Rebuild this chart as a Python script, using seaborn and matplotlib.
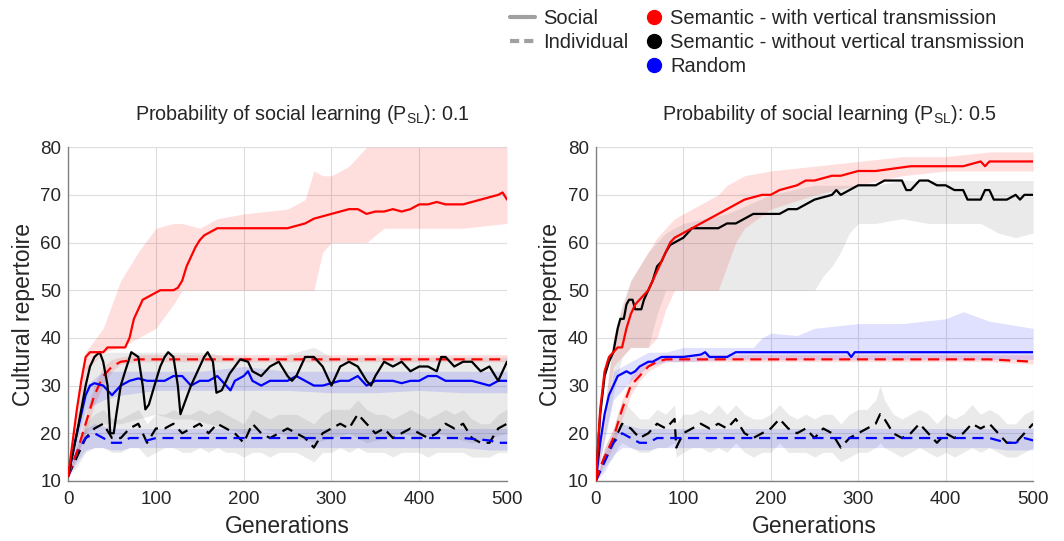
import numpy as np
import pandas as pd
import matplotlib
matplotlib.use("Agg")
import matplotlib.pyplot as plt
from matplotlib.lines import Line2D
import seaborn as sns

sns.set_style("white")
plt.rcParams['font.family'] = ['Liberation Sans', 'DejaVu Sans']
plt.rcParams['mathtext.fontset'] = 'custom'
plt.rcParams['mathtext.rm'] = 'Liberation Sans'

# ---------------- Panel A: P_SL = 0.1 ----------------
a_red_soc_x = [0, 5, 10, 15, 20, 25, 40, 45, 65, 70, 75, 80, 85, 95, 100, 105, 120, 125, 130, 135, 140, 145, 150, 155, 165, 170, 200, 250, 260, 270, 280, 290, 300, 310, 320, 330, 340, 350, 360, 370, 380, 390, 400, 410, 420, 430, 440, 450, 460, 470, 480, 490, 495, 500]
a_red_soc_y = [11, 18, 25, 31, 36, 37, 37, 38, 38, 40, 44, 46, 48, 49, 49.5, 50, 50, 50.5, 52, 55, 57, 59, 60.5, 61.5, 62.5, 63, 63, 63, 63.5, 64, 65, 65.5, 66, 66.5, 67, 67, 66, 66.5, 66.5, 67, 66.5, 67, 68, 68, 68.5, 68, 68, 68, 68.5, 69, 69.5, 70, 70.5, 69]
a_red_band_x = [0, 20, 40, 60, 80, 100, 120, 130, 150, 170, 200, 250, 270, 280, 290, 300, 320, 340, 360, 400, 450, 500]
a_red_band_lo = [11, 33, 37, 38, 40, 42, 47, 50, 50, 50, 50, 50, 50, 50, 58, 60, 60, 60, 63, 63, 63, 64]
a_red_band_hi = [11, 37, 42, 52, 58, 63, 64, 64, 63, 65, 66, 67, 69, 75, 74, 74, 76, 80, 80, 80, 80, 80]

a_red_ind_x = [0, 10, 20, 30, 40, 50, 60, 80, 100, 150, 200, 250, 300, 350, 400, 450, 500]
a_red_ind_y = [11, 16, 22, 28, 32, 34, 35, 35.5, 35.5, 35.5, 35.5, 35.5, 35.5, 35.5, 35.5, 35.5, 35.5]
a_red_ind_lo = [11, 15, 20, 26, 30, 33, 34.5, 35, 35, 35, 35, 35, 35, 35, 35, 35, 35]
a_red_ind_hi = [11, 17, 24, 30, 34, 35.5, 36, 36.5, 36.5, 36.5, 36.5, 36.5, 36.5, 36.5, 36.5, 36.5, 36.5]

a_blk_soc_x = [0, 10, 20, 25, 30, 36, 40, 45, 48, 52, 55, 60, 65, 72, 80, 85, 88, 92, 100, 105, 110, 114, 120, 125, 128, 132, 140, 150, 155, 159, 165, 169, 175, 184, 196, 205, 210, 220, 230, 240, 250, 255, 260, 270, 280, 290, 295, 300, 305, 310, 320, 330, 340, 345, 350, 360, 370, 380, 390, 400, 410, 420, 425, 430, 440, 450, 460, 470, 480, 490, 495, 500]
a_blk_soc_y = [11, 20, 30, 34, 36, 37, 35, 30, 20, 20, 24, 30, 33, 37, 36, 30, 25, 26, 31, 34, 36, 37, 36, 30, 24, 26, 30, 34, 36, 37, 35, 28.5, 29, 32.5, 35.5, 35, 33, 32, 34, 35, 32, 31, 32, 36, 36, 34, 32, 30, 32, 34, 35, 34, 31, 30, 32, 35, 34, 35, 33, 34, 34, 33, 36, 36, 34, 35, 35, 33, 34, 31, 33, 35]
a_blk_band_x = [0, 20, 40, 60, 80, 100, 120, 140, 160, 180, 200, 220, 240, 260, 280, 300, 320, 340, 360, 380, 400, 420, 440, 460, 480, 500]
a_blk_band_lo = [11, 20, 22, 22, 23, 24, 23, 23, 22, 21, 20, 21, 20, 19, 18, 19, 20, 18, 19, 20, 19, 20, 19, 18, 19, 20]
a_blk_band_hi = [11, 34, 37, 37, 37, 37, 37, 37, 37, 36, 36, 36, 36, 37, 38, 36, 36, 36, 36, 36, 36, 36, 36, 36, 36, 36]

a_blk_ind_x = [0, 10, 20, 30, 40, 50, 60, 70, 80, 90, 100, 110, 120, 130, 140, 150, 160, 170, 180, 190, 200, 210, 220, 230, 240, 250, 260, 270, 280, 290, 300, 310, 320, 330, 340, 350, 360, 370, 380, 390, 400, 410, 420, 430, 440, 450, 460, 470, 480, 490, 500]
a_blk_ind_y = [11, 15, 19, 21, 22, 19, 19, 21, 22, 18, 21, 21, 22, 20, 21, 22, 20, 22, 21, 20, 18, 22, 20, 19, 20, 21, 20, 19, 17, 20, 21, 22, 21, 24, 22, 20, 21, 19, 20, 21, 20, 19, 20, 22, 21, 22, 19, 18, 18, 21, 22]
a_blk_ind_lo = [11, 13, 16, 17, 17, 16, 16, 17, 17, 15, 16, 17, 17, 16, 16, 17, 16, 17, 16, 16, 15, 16, 16, 15, 16, 16, 16, 15, 14, 16, 16, 17, 16, 17, 16, 16, 16, 15, 16, 16, 16, 15, 16, 16, 16, 16, 15, 15, 15, 16, 16]
a_blk_ind_hi = [11, 17, 22, 24, 25, 23, 23, 24, 25, 22, 24, 24, 25, 24, 24, 25, 24, 25, 24, 23, 22, 25, 24, 23, 24, 24, 24, 23, 22, 24, 25, 25, 25, 27, 25, 24, 24, 23, 24, 25, 24, 23, 24, 25, 24, 25, 23, 22, 22, 24, 25]

a_blu_soc_x = [0, 10, 20, 25, 30, 40, 45, 50, 55, 60, 70, 80, 90, 100, 110, 120, 130, 140, 150, 160, 170, 180, 185, 190, 200, 205, 210, 220, 230, 240, 250, 260, 270, 280, 290, 300, 310, 320, 330, 340, 350, 360, 370, 380, 390, 400, 410, 420, 430, 440, 450, 460, 470, 480, 490, 500]
a_blu_soc_y = [11, 20, 28, 30, 30.5, 30, 29, 28, 29, 30, 31, 31.5, 31, 31, 31, 32, 32, 30, 31, 31, 32, 30, 29, 31, 32, 33, 31, 30, 31, 31, 31, 32, 31, 30, 30, 30.5, 31, 31, 32, 30, 31, 31, 31, 30.5, 31, 31, 32, 32, 31, 31, 31, 31, 30.5, 30, 31, 31]
a_blu_band_x = [0, 20, 40, 60, 100, 150, 200, 250, 300, 350, 400, 450, 500]
a_blu_band_lo = [11, 25, 27, 28, 29, 29, 29, 29, 28.5, 28.5, 29, 28.5, 28.5]
a_blu_band_hi = [11, 30, 33, 33, 33, 33, 34, 33, 33, 33, 33, 33, 33]

a_blu_ind_x = [0, 10, 20, 30, 40, 50, 60, 70, 80, 90, 100, 150, 200, 250, 300, 350, 400, 450, 480, 490, 500]
a_blu_ind_y = [11, 16, 19, 20, 19, 18, 18, 19, 19, 18.5, 19, 19, 19, 19, 19, 19, 19, 19, 18.5, 18, 18]
a_blu_band2_lo = [11, 14, 16.5, 17, 17, 16.5, 16.5, 17, 17, 17, 17, 17, 17, 17, 17, 17, 17, 17, 16.5, 16.5, 16.5]
a_blu_band2_hi = [11, 18, 21, 22, 21.5, 21, 21, 21, 21, 21, 21, 21, 21, 21, 21, 21, 21, 21, 21, 21, 21]

# ---------------- Panel B: P_SL = 0.5 ----------------
b_red_soc_x = [0, 5, 10, 15, 20, 25, 30, 35, 40, 45, 50, 55, 60, 65, 70, 75, 80, 85, 90, 100, 110, 120, 130, 140, 150, 160, 170, 180, 190, 200, 210, 220, 230, 240, 250, 260, 270, 280, 290, 300, 320, 340, 360, 380, 400, 420, 440, 445, 450, 460, 480, 500]
b_red_soc_y = [10, 25, 33, 36, 37, 38, 38, 42, 45, 47, 48, 49, 50, 52, 54, 56, 58, 60, 61, 62, 63, 64, 65, 66, 67, 68, 69, 69.5, 70, 70, 71, 71.5, 72, 73, 73, 73.5, 74, 74, 74.5, 75, 75, 75.5, 76, 76, 76, 76, 77, 76, 77, 77, 77, 77]
b_red_band_x = [0, 20, 40, 60, 70, 80, 90, 100, 120, 140, 150, 160, 170, 200, 250, 300, 350, 400, 450, 500]
b_red_band_lo = [10, 34, 38, 38, 40, 46, 50, 50, 50, 50, 55, 60, 63, 67, 70, 72, 74, 75, 75, 75]
b_red_band_hi = [10, 40, 52, 58, 61, 63, 65, 66, 68, 70, 72, 73, 74, 75, 76, 77, 78, 78, 79, 79]

b_red_ind_x = [0, 5, 10, 20, 30, 40, 50, 60, 70, 80, 100, 150, 200, 250, 300, 350, 400, 450, 500]
b_red_ind_y = [10, 13, 15, 19, 25, 30, 32, 34, 35, 35.5, 35.5, 35.5, 35.5, 35.5, 35.5, 35.5, 35.5, 35.5, 35]
b_red_ind_lo = [10, 12, 14, 17, 23, 28, 31, 33, 34, 35, 35, 35, 35, 35, 35, 35, 35, 35, 34.5]
b_red_ind_hi = [10, 14, 17, 21, 27, 32, 34, 35, 36, 36.5, 36.5, 36.5, 36.5, 36.5, 36.5, 36.5, 36.5, 36.5, 36.5]

b_blk_soc_x = [0, 5, 10, 15, 20, 25, 28, 32, 35, 38, 42, 45, 52, 55, 60, 65, 70, 75, 80, 85, 90, 100, 105, 110, 120, 130, 140, 150, 160, 170, 180, 190, 200, 210, 220, 230, 240, 250, 260, 270, 275, 280, 290, 300, 310, 320, 330, 340, 350, 355, 360, 365, 370, 380, 390, 400, 410, 420, 425, 440, 445, 450, 455, 470, 480, 485, 490, 500]
b_blk_soc_y = [10, 24, 32, 35, 37, 42, 44, 44, 47, 48, 48, 46, 46, 48, 50, 52, 55, 56, 58, 59.5, 60, 61, 62, 63, 63, 63, 63, 64, 64, 65, 66, 66, 66, 66, 67, 67, 68, 69, 69.5, 70, 71, 70, 71, 72, 72, 72, 73, 73, 73, 71, 71, 72, 73, 73, 72, 72, 71, 71, 69, 69, 71, 71, 69, 69, 70, 69, 70, 70]
b_blk_band_x = [0, 20, 30, 40, 60, 70, 80, 100, 150, 200, 250, 260, 270, 280, 290, 300, 320, 350, 380, 400, 440, 460, 480, 500]
b_blk_band_lo = [10, 28, 36, 38, 38, 45, 50, 50, 50, 50, 50, 53, 55, 58, 62, 64, 64, 65, 64, 64, 64, 62, 61, 62]
b_blk_band_hi = [10, 40, 47, 52, 58, 60, 62, 64, 66, 70, 72, 72, 72, 72, 72, 72, 72, 73, 73, 73, 73, 73, 73, 73]

b_blk_ind_x = [0, 10, 20, 25, 30, 40, 50, 60, 70, 80, 90, 92, 100, 110, 120, 130, 140, 150, 160, 170, 180, 190, 200, 210, 220, 230, 240, 250, 260, 270, 280, 290, 300, 310, 320, 325, 330, 340, 350, 360, 370, 380, 390, 400, 410, 420, 430, 440, 450, 460, 470, 480, 490, 500]
b_blk_ind_y = [10, 15, 18, 20, 22, 21, 19, 20, 22, 21, 23, 17, 20, 21, 22, 21, 22, 21, 23, 20, 19, 20, 21, 23, 21, 20, 21, 19, 21, 20, 17, 19, 20, 21, 22, 24, 23, 20, 19, 20, 22, 20, 18, 20, 19, 20, 22, 21, 22, 20, 18, 18, 20, 22]
b_blk_ind_lo = [10, 13, 15, 17, 18, 17, 16, 16, 17, 17, 18, 15, 16, 17, 17, 16, 17, 16, 18, 16, 15, 16, 16, 18, 16, 16, 16, 15, 16, 16, 14, 15, 16, 16, 17, 18, 17, 16, 15, 16, 17, 16, 15, 16, 15, 16, 17, 16, 17, 16, 15, 15, 16, 17]
b_blk_ind_hi = [10, 17, 21, 24, 27, 25, 23, 23, 25, 24, 26, 22, 24, 24, 25, 24, 26, 24, 26, 24, 23, 23, 24, 26, 24, 23, 24, 23, 24, 24, 22, 24, 25, 25, 27, 30, 27, 24, 23, 24, 25, 24, 22, 24, 23, 24, 26, 24, 25, 24, 22, 22, 24, 25]

b_blu_soc_x = [0, 5, 10, 15, 20, 25, 30, 35, 40, 45, 50, 55, 60, 65, 70, 75, 80, 100, 120, 125, 130, 150, 160, 170, 200, 250, 288, 292, 296, 300, 350, 400, 450, 500]
b_blu_soc_y = [10, 18, 24, 28, 30, 32, 32.5, 33, 32.5, 33, 34, 34.5, 35, 35, 35.5, 36, 36, 36, 36.5, 37, 36, 36, 37, 37, 37, 37, 37, 36, 37, 37, 37, 37, 37, 37]
b_blu_band_x = [0, 20, 40, 60, 80, 100, 150, 180, 190, 200, 230, 250, 300, 350, 400, 420, 450, 500]
b_blu_band_lo = [10, 27, 31, 34, 35, 35, 35.5, 35.5, 35.5, 35.5, 35.5, 35.5, 35.5, 35.5, 35.5, 35.5, 35.5, 35.5]
b_blu_band_hi = [10, 33, 35, 37, 37, 38, 38, 38, 40, 41, 40.5, 42, 43, 43, 44, 45.5, 43.5, 42]

b_blu_ind_x = [0, 10, 20, 30, 40, 50, 60, 70, 80, 100, 150, 200, 250, 300, 350, 400, 450, 470, 480, 490, 500]
b_blu_ind_y = [10, 14, 18, 20, 19, 18, 18, 19, 19, 19, 19, 19, 19, 19, 19, 19, 19, 18, 18, 19, 18.5]
b_blu_band2_lo = [10, 12, 15.5, 17, 17, 16.5, 16.5, 17, 17, 17, 17, 17, 17, 17, 17, 17, 17, 16.5, 16.5, 16.5, 16.5]
b_blu_band2_hi = [10, 16, 20, 22, 21.5, 21, 21, 21, 21, 21, 21, 21, 21, 21, 21, 21, 21, 21, 21, 21, 21]

x_ticks = [0, 100, 200, 300, 400, 500]
y_ticks = [10, 20, 30, 40, 50, 60, 70, 80]
titles = ["Probability of social learning (P$_{\\mathregular{SL}}$): 0.1",
          "Probability of social learning (P$_{\\mathregular{SL}}$): 0.5"]

RED, BLK, BLU = "#ff0000", "#000000", "#0000ff"

fig = plt.figure(figsize=(10.64, 5.41), dpi=100)
axA = fig.add_axes([0.064, 0.111, 0.4125, 0.617])
axB = fig.add_axes([0.560, 0.111, 0.411, 0.617])


def band(ax, x, lo, hi, color, alpha):
    ax.fill_between(x, lo, hi, color=color, alpha=alpha, linewidth=0, zorder=1)


def line(ax, x, y, color, dashed):
    df = pd.DataFrame({"g": x, "v": y})
    sns.lineplot(data=df, x="g", y="v", ax=ax, color=color, linewidth=1.6,
                 linestyle=(0, (5, 3)) if dashed else "-", zorder=3, legend=False)


# Panel A
band(axA, a_red_band_x, a_red_band_lo, a_red_band_hi, RED, 0.13)
band(axA, a_red_ind_x, a_red_ind_lo, a_red_ind_hi, RED, 0.13)
band(axA, a_blk_band_x, a_blk_band_lo, a_blk_band_hi, "#777777", 0.15)
band(axA, a_blk_ind_x, a_blk_ind_lo, a_blk_ind_hi, "#777777", 0.15)
band(axA, a_blu_band_x, a_blu_band_lo, a_blu_band_hi, BLU, 0.12)
band(axA, a_blu_ind_x, a_blu_band2_lo, a_blu_band2_hi, BLU, 0.12)
line(axA, a_blk_ind_x, a_blk_ind_y, BLK, True)
line(axA, a_blu_ind_x, a_blu_ind_y, BLU, True)
line(axA, a_red_ind_x, a_red_ind_y, RED, True)
line(axA, a_blu_soc_x, a_blu_soc_y, BLU, False)
line(axA, a_blk_soc_x, a_blk_soc_y, BLK, False)
line(axA, a_red_soc_x, a_red_soc_y, RED, False)

# Panel B
band(axB, b_red_band_x, b_red_band_lo, b_red_band_hi, RED, 0.13)
band(axB, b_red_ind_x, b_red_ind_lo, b_red_ind_hi, RED, 0.13)
band(axB, b_blk_band_x, b_blk_band_lo, b_blk_band_hi, "#777777", 0.15)
band(axB, b_blk_ind_x, b_blk_ind_lo, b_blk_ind_hi, "#777777", 0.15)
band(axB, b_blu_band_x, b_blu_band_lo, b_blu_band_hi, BLU, 0.12)
band(axB, b_blu_ind_x, b_blu_band2_lo, b_blu_band2_hi, BLU, 0.12)
line(axB, b_blk_ind_x, b_blk_ind_y, BLK, True)
line(axB, b_blu_ind_x, b_blu_ind_y, BLU, True)
line(axB, b_red_ind_x, b_red_ind_y, RED, True)
line(axB, b_blu_soc_x, b_blu_soc_y, BLU, False)
line(axB, b_blk_soc_x, b_blk_soc_y, BLK, False)
line(axB, b_red_soc_x, b_red_soc_y, RED, False)

for ax, t in zip([axA, axB], titles):
    ax.set_xlim(0, 500)
    ax.set_ylim(10, 80)
    ax.set_xticks(x_ticks)
    ax.set_yticks(y_ticks)
    ax.grid(True, color="#dddddd", linewidth=0.8, zorder=0)
    ax.set_axisbelow(True)
    for s in ["top", "right"]:
        ax.spines[s].set_visible(False)
    for s in ["left", "bottom"]:
        ax.spines[s].set_color("#808080")
        ax.spines[s].set_linewidth(1.0)
    ax.tick_params(axis="both", length=0, labelsize=13.5, colors="#262626")
    ax.tick_params(axis="y", pad=5)
    ax.tick_params(axis="x", pad=7)
    ax.set_xlabel("Generations", fontsize=16.5, labelpad=5, color="#262626")
    ax.set_ylabel("Cultural repertoire", fontsize=16.5, labelpad=4, color="#262626")
    ax.set_title(t, fontsize=14.2, pad=19.5, color="#262626", x=0.534)

h1 = [Line2D([0], [0], color="#a0a0a0", lw=3, ls="-"),
      Line2D([0], [0], color="#a0a0a0", lw=3, ls=(0, (2.2, 1.2)))]
fig.legend(h1, ["Social", "Individual"], loc="upper left",
           bbox_to_anchor=(0.479, 0.983), frameon=False, fontsize=14.5,
           handlelength=1.25, handletextpad=0.4, labelspacing=0.25,
           borderpad=0, borderaxespad=0)
h2 = [Line2D([0], [0], marker="o", color="none", markerfacecolor=c, markeredgecolor=c, markersize=10)
      for c in [RED, BLK, BLU]]
fig.legend(h2, ["Semantic - with vertical transmission",
                "Semantic - without vertical transmission", "Random"],
           loc="upper left", bbox_to_anchor=(0.607, 0.983), frameon=False, fontsize=14.5,
           handlelength=0.8, handletextpad=0.4, labelspacing=0.25,
           borderpad=0, borderaxespad=0)

fig.savefig("out.png", dpi=100)
